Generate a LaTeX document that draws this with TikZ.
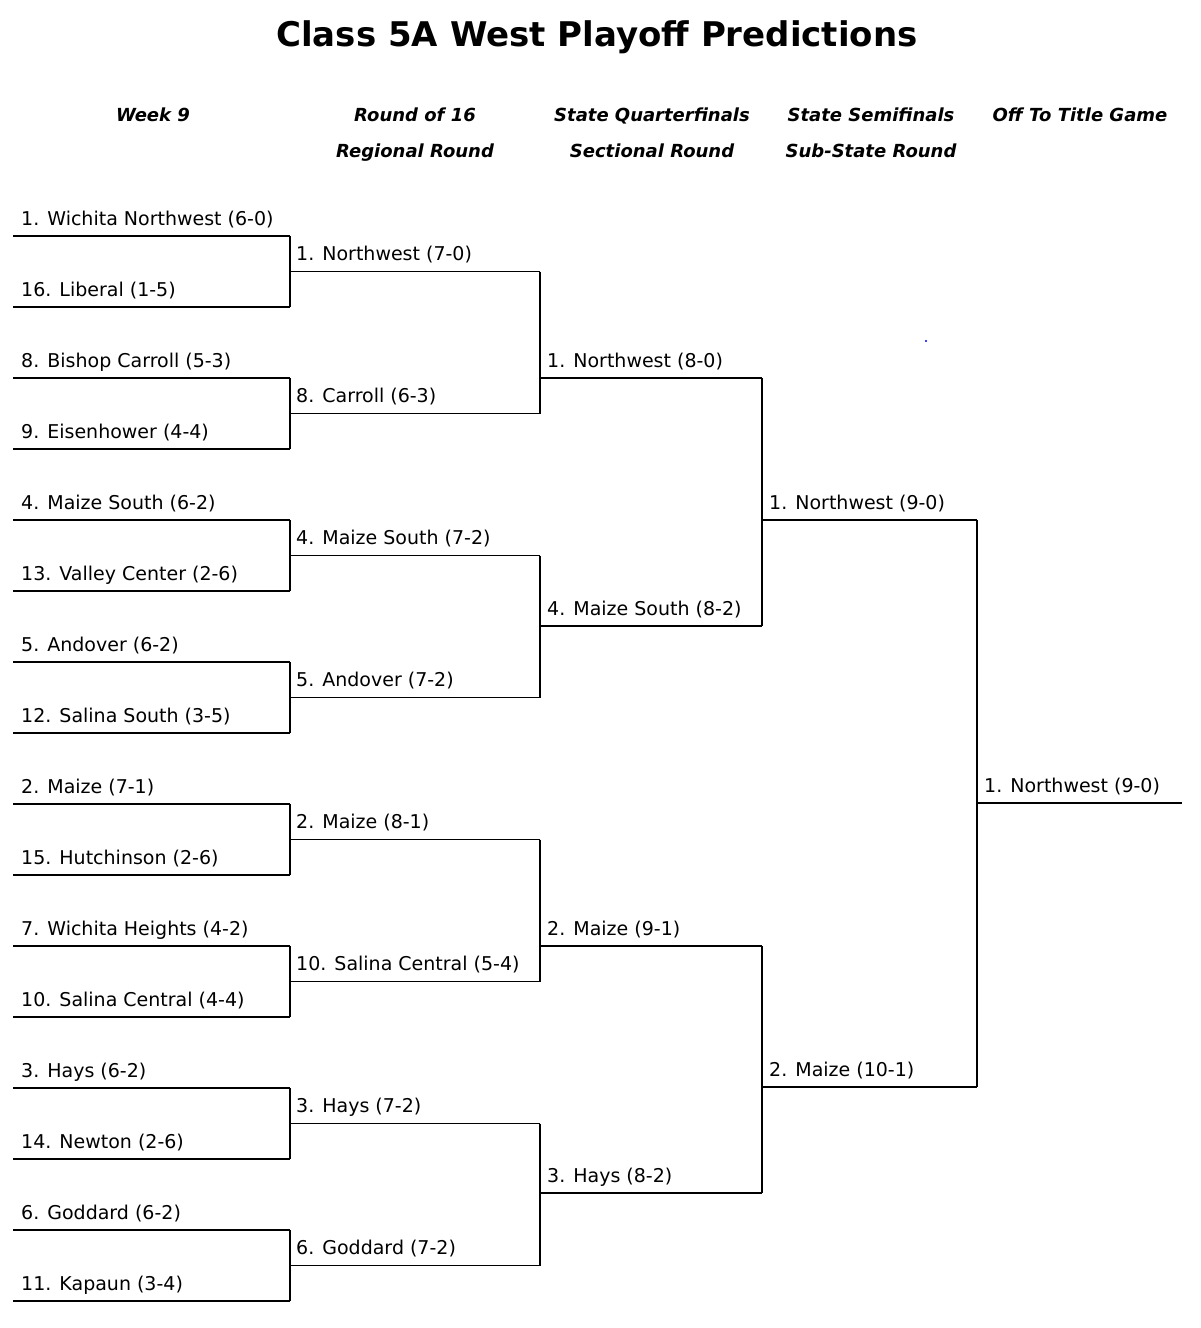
\documentclass[tikz,border=0pt]{standalone}
\usepackage{fontspec}
\setmainfont{DejaVu Sans}
\begin{document}
\begin{tikzpicture}[x=1pt,y=-1pt,
  br/.style={line width=1.2pt},
  lab/.style={anchor=base west,inner sep=0pt,font=\fontsize{19}{22}\selectfont},
  hdr/.style={anchor=base,inner sep=0pt,font=\fontsize{18}{20}\selectfont\bfseries\itshape}]
\useasboundingbox (0,0) rectangle (1200,1328);
\node[anchor=base,font=\fontsize{34}{38}\selectfont\bfseries] (title) at (597,46) {Class 5A West Playoff Predictions};
\node[hdr] (h1) at (153,121) {Week 9};
\node[hdr] (h2a) at (415,121) {Round of 16};
\node[hdr] (h2b) at (415,157) {Regional Round};
\node[hdr] (h3a) at (652,121) {State Quarterfinals};
\node[hdr] (h3b) at (652,157) {Sectional Round};
\node[hdr] (h4a) at (871,121) {State Semifinals};
\node[hdr] (h4b) at (871,157) {Sub-State Round};
\node[hdr] (h5) at (1080,121) {Off To Title Game};
% round 1
\foreach \t [count=\i from 0] in {1. Wichita Northwest (6-0),16. Liberal (1-5),8. Bishop Carroll (5-3),9. Eisenhower (4-4),4. Maize South (6-2),13. Valley Center (2-6),5. Andover (6-2),12. Salina South (3-5),2. Maize (7-1),15. Hutchinson (2-6),7. Wichita Heights (4-2),10. Salina Central (4-4),3. Hays (6-2),14. Newton (2-6),6. Goddard (6-2),11. Kapaun (3-4)}{
  \pgfmathsetmacro\yy{236+71*\i}
  \draw[br] (13,\yy) -- (290,\yy);
  \node[lab] (a\i) at (21,\yy-11) {\t};
}
\foreach \i in {0,...,7}{
  \pgfmathsetmacro\ya{236+142*\i}
  \draw[br] (290,\ya) -- (290,\ya+71);
}
% round 2
\foreach \t [count=\i from 0] in {1. Northwest (7-0),8. Carroll (6-3),4. Maize South (7-2),5. Andover (7-2),2. Maize (8-1),10. Salina Central (5-4),3. Hays (7-2),6. Goddard (7-2)}{
  \pgfmathsetmacro\yy{271.5+142*\i}
  \draw[br] (290,\yy) -- (540,\yy);
  \node[lab] (b\i) at (296,\yy-11) {\t};
}
\foreach \i in {0,...,3}{
  \pgfmathsetmacro\ya{271.5+284*\i}
  \draw[br] (540,\ya) -- (540,\ya+142);
}
% round 3
\foreach \t/\yy [count=\i from 0] in {1. Northwest (8-0)/378,4. Maize South (8-2)/626,2. Maize (9-1)/946,3. Hays (8-2)/1193}{
  \draw[br] (540,\yy) -- (762,\yy);
  \node[lab] (c\i) at (547,\yy-11) {\t};
}
\draw[br] (762,378) -- (762,626);
\draw[br] (762,946) -- (762,1193);
% round 4
\foreach \t/\yy [count=\i from 0] in {1. Northwest (9-0)/520,2. Maize (10-1)/1087}{
  \draw[br] (762,\yy) -- (977,\yy);
  \node[lab] (d\i) at (769,\yy-11) {\t};
}
\draw[br] (977,520) -- (977,1087);
\draw[br] (977,803) -- (1182,803);
\node[lab] (e0) at (984,792) {1. Northwest (9-0)};
\fill[blue] (926,341) circle (1.2);
\end{tikzpicture}
\end{document}
